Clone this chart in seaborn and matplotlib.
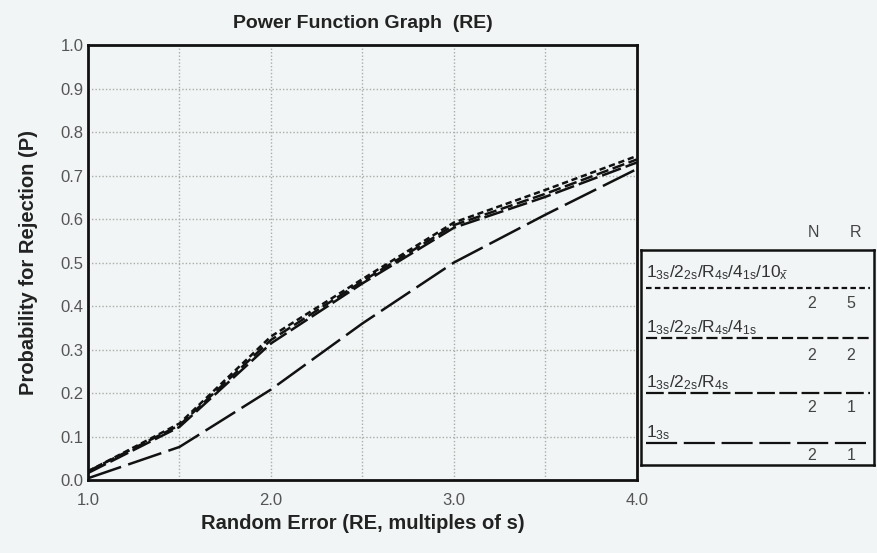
import matplotlib
matplotlib.use("Agg")
import matplotlib.pyplot as plt
import seaborn as sns
import pandas as pd

sns.set_style("white")
plt.rcParams['font.family'] = ['Liberation Sans', 'DejaVu Sans']
plt.rcParams['mathtext.fontset'] = 'custom'
plt.rcParams['mathtext.rm'] = 'Liberation Sans'
plt.rcParams['mathtext.it'] = 'Liberation Sans'

# ---- data ----
re_values = [1.0, 1.5, 2.0, 2.5, 3.0, 3.5, 4.0]
p_n2r5 = [0.020, 0.130, 0.330, 0.462, 0.592, 0.667, 0.745]
p_n2r2 = [0.020, 0.126, 0.322, 0.457, 0.586, 0.658, 0.737]
p_n2r1 = [0.016, 0.122, 0.314, 0.452, 0.580, 0.651, 0.730]
p_13s  = [0.004, 0.076, 0.208, 0.360, 0.500, 0.610, 0.715]

rule_labels = [r"$1_{3s}/2_{2s}/R_{4s}/4_{1s}/10_{\bar{x}}$",
               r"$1_{3s}/2_{2s}/R_{4s}/4_{1s}$",
               r"$1_{3s}/2_{2s}/R_{4s}$",
               r"$1_{3s}$"]
rule_keys = ["N2R5", "N2R2", "N2R1", "N2R1b"]
n_values = [2, 2, 2, 2]
r_values = [5, 2, 1, 1]
x_ticks = [1.0, 2.0, 3.0, 4.0]
y_ticks = [0.0, 0.1, 0.2, 0.3, 0.4, 0.5, 0.6, 0.7, 0.8, 0.9, 1.0]

series = [p_n2r5, p_n2r2, p_n2r1, p_13s]
dash_styles = [(2.5, 1.5), (5, 1.8), (8, 2), (14, 3)]

rows = []
for key, vals in zip(rule_keys, series):
    for x, y in zip(re_values, vals):
        rows.append({"RE": x, "P": y, "rule": key})
df = pd.DataFrame(rows)

bg = "#f1f5f5"
fig = plt.figure(figsize=(8.77, 5.53), dpi=100, facecolor=bg)
ax = fig.add_axes([0.1003, 0.132, 0.6260, 0.7866])
ax.set_facecolor(bg)

sns.lineplot(data=df, x="RE", y="P", style="rule", hue="rule",
             palette={k: "#111111" for k in rule_keys},
             dashes=dict(zip(rule_keys, dash_styles)),
             linewidth=1.8, ax=ax, legend=False)

ax.set_xlim(1.0, 4.0)
ax.set_ylim(0.0, 1.0)
ax.set_xticks(x_ticks)
ax.set_xticklabels([f"{v:.1f}" for v in x_ticks])
ax.set_yticks(y_ticks)
ax.set_yticklabels([f"{v:.1f}" for v in y_ticks])
ax.set_xticks([1.5, 2.5, 3.5], minor=True)
ax.grid(True, which="both", color="#a9aea9", linestyle=(0, (1, 1.5)), linewidth=1.0)
ax.tick_params(axis="both", which="both", length=0, labelsize=12, colors="#555555")
ax.tick_params(axis="x", pad=9)
ax.tick_params(axis="y", pad=3)
for s in ax.spines.values():
    s.set_visible(True)
    s.set_color("#111111")
    s.set_linewidth(2.0)

ax.set_title("Power Function Graph  (RE)", fontsize=14, fontweight="bold", color="#222222", pad=12)
ax.set_xlabel("Random Error (RE, multiples of s)", fontsize=14.5, fontweight="bold", color="#222222", labelpad=5)
ax.set_ylabel("Probability for Rejection (P)", fontsize=14.5, fontweight="bold", color="#222222", labelpad=16)

# ---- custom legend panel ----
lax = fig.add_axes([0.731, 0.160, 0.266, 0.388])
lax.set_facecolor(bg)
lax.set_xlim(0, 1)
lax.set_ylim(0, 1)
lax.set_xticks([])
lax.set_yticks([])
for s in lax.spines.values():
    s.set_color("#111111")
    s.set_linewidth(1.8)

# entry geometry in panel coordinates
label_y = [0.895, 0.64, 0.38, 0.15]
line_y = [0.825, 0.59, 0.335, 0.10]
num_y = [0.75, 0.51, 0.265, 0.04]
n_x, r_x = 0.73, 0.90
for lab, ly, liy, ny, d, n, r in zip(rule_labels, label_y, line_y, num_y, dash_styles, n_values, r_values):
    lax.text(0.02, ly, lab, fontsize=12.5, color="#333333", va="center", ha="left")
    lax.plot([0.02, 0.98], [liy, liy], color="#111111", linewidth=1.6, dashes=d)
    lax.text(n_x, ny, str(n), fontsize=11.5, color="#444444", ha="center", va="center")
    lax.text(r_x, ny, str(r), fontsize=11.5, color="#444444", ha="center", va="center")

fig.text(0.927, 0.58, "N", fontsize=11.5, color="#444444", ha="center", va="center")
fig.text(0.976, 0.58, "R", fontsize=11.5, color="#444444", ha="center", va="center")

fig.savefig("out.png", dpi=100, facecolor=bg)
